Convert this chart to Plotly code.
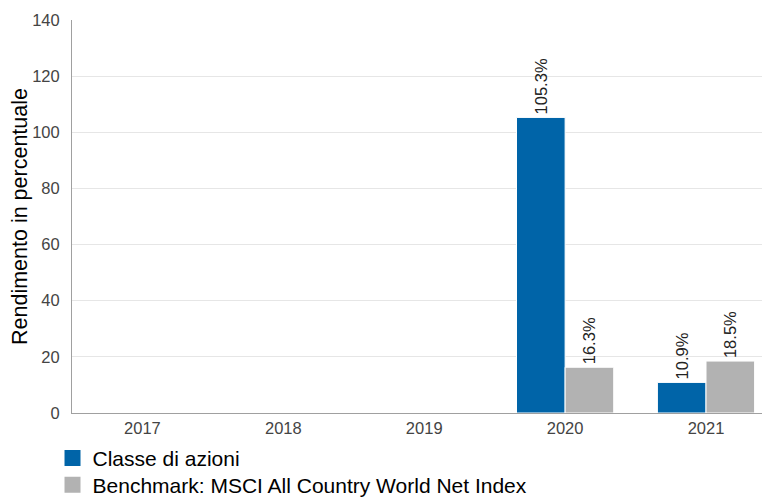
import plotly.graph_objects as go

years = ["2017", "2018", "2019", "2020", "2021"]
classe = [None, None, None, 105.3, 10.9]
bench = [None, None, None, 16.3, 18.5]
name_classe = "Classe di azioni"
name_bench = "Benchmark: MSCI All Country World Net Index"
blue = "#0064a8"
grey = "#b2b2b2"

def lbl(vals):
    return [("%.1f%%" % v) if v is not None else "" for v in vals]

fig = go.Figure()
fig.add_trace(go.Bar(x=years, y=classe, marker=dict(color=blue, line=dict(color="white", width=1)),
                     text=lbl(classe), textposition="outside", textangle=-90, constraintext="none",
                     textfont=dict(size=16.5, color="#222"), cliponaxis=False, showlegend=False))
fig.add_trace(go.Bar(x=years, y=bench, marker=dict(color=grey, line=dict(color="white", width=1)),
                     text=lbl(bench), textposition="outside", textangle=-90, constraintext="none",
                     textfont=dict(size=16.5, color="#222"), cliponaxis=False, showlegend=False))
# legend entries
fig.add_trace(go.Scatter(x=[None], y=[None], mode="markers", name=name_classe, legend="legend",
                         marker=dict(symbol="square", size=21, color=blue)))
fig.add_trace(go.Scatter(x=[None], y=[None], mode="markers", name=name_bench, legend="legend2",
                         marker=dict(symbol="square", size=21, color=grey)))

leg_common = dict(orientation="v", xanchor="left", yanchor="top",
                  font=dict(size=21, color="black"), itemsizing="trace",
                  bgcolor="rgba(0,0,0,0)")

fig.update_layout(
    width=762, height=490,
    margin=dict(l=64, r=2, t=12, b=85, autoexpand=False),
    paper_bgcolor="white", plot_bgcolor="white",
    font=dict(family="Liberation Sans, Arial, sans-serif"),
    barmode="group", bargap=0.31, bargroupgap=0,
    uniformtext=dict(mode=False),
    legend=dict(x=-0.028, y=-0.063, **leg_common),
    legend2=dict(x=-0.028, y=-0.131, **leg_common),
    xaxis=dict(showline=True, linecolor="#a0a0a0", linewidth=1, ticks="", automargin=False,
               range=[-0.5, 4.44], ticklabelstandoff=0,
               tickfont=dict(size=16.5, color="#444"), fixedrange=True),
    yaxis=dict(range=[0, 140], dtick=20, showline=True, linecolor="#a0a0a0", linewidth=1,
               gridcolor="#e6e6e6", zeroline=False, tickfont=dict(size=16.5, color="#444"),
               automargin=False, ticklabelstandoff=8,
               title=dict(text="Rendimento in percentuale", font=dict(size=21.5, color="black"), standoff=10)),
)
fig.write_html("out.html")
